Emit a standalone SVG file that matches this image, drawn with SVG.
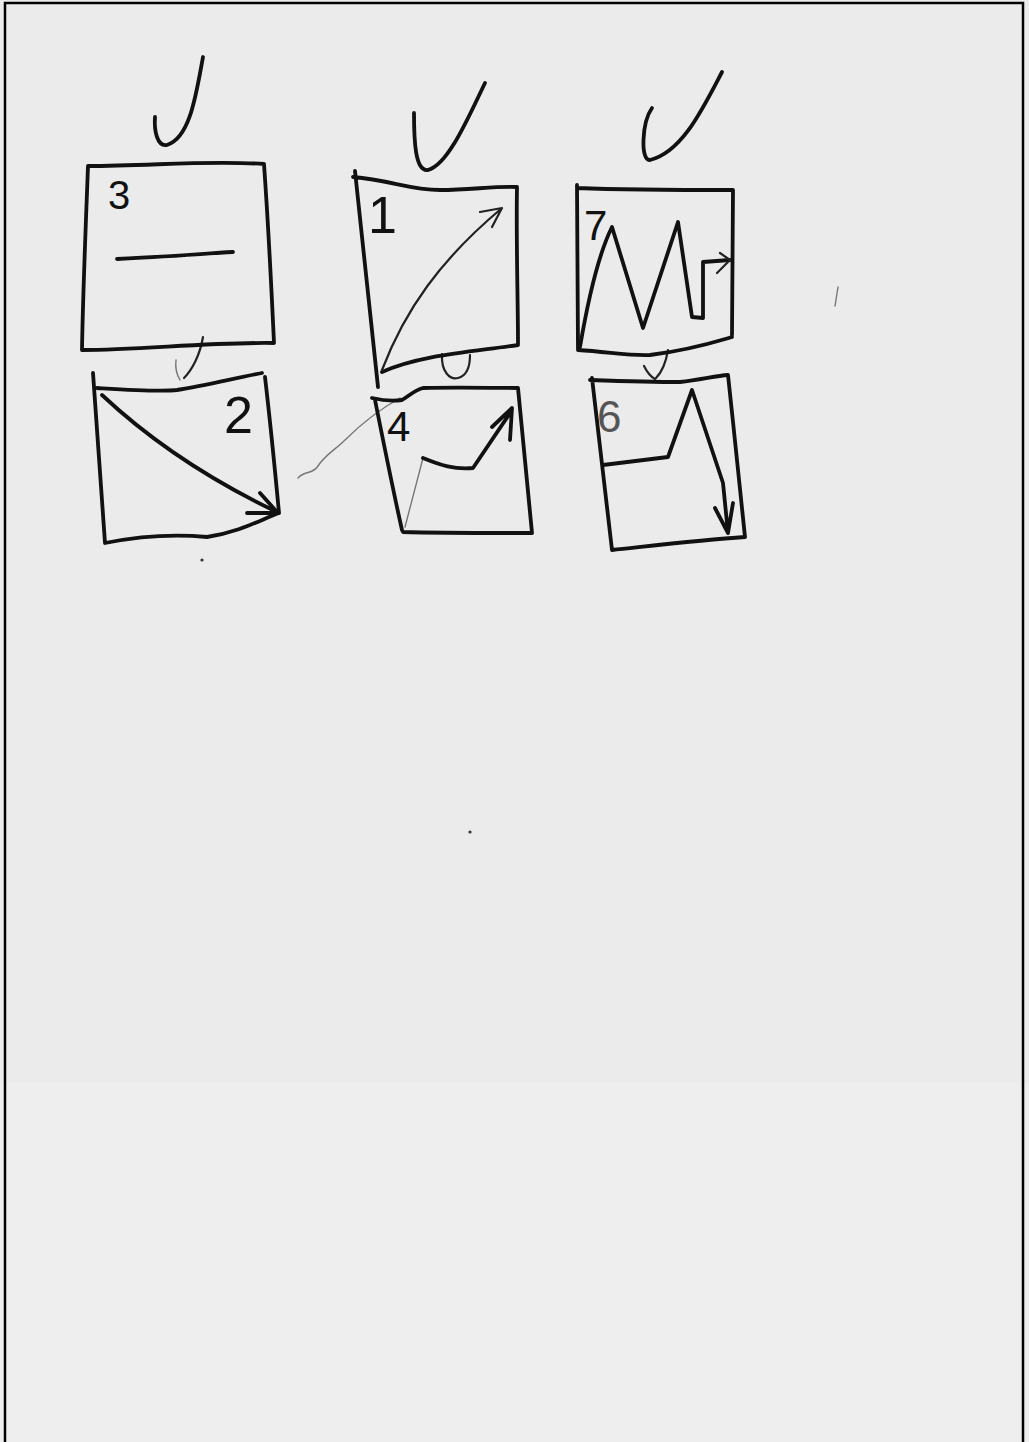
<svg xmlns="http://www.w3.org/2000/svg" width="1029" height="1442" viewBox="0 0 1029 1442">
<style>
.ink{fill:none;stroke:#111;stroke-width:3.8;stroke-linecap:round;stroke-linejoin:round}
.thin{fill:none;stroke:#222;stroke-width:2.2;stroke-linecap:round;stroke-linejoin:round}
.faint{fill:none;stroke:#777;stroke-width:1.4;stroke-linecap:round;stroke-linejoin:round}
.num{font-family:"Liberation Sans",Arial,sans-serif;fill:#111}
</style>
<rect x="0" y="0" width="1029" height="1442" fill="#ebebeb"/>
<rect x="0" y="1083" width="1029" height="359" fill="#eeeeee"/>
<path d="M5,1442 V3 H1023 V1442" fill="none" stroke="#000" stroke-width="2.5"/>

<g id="connectors">
  <path class="ink" d="M203,57 C196,95 190,138 167,145 C157,147 154,130 155,117"/>
  <path class="ink" d="M485,83 C468,118 448,165 428,170 C415,172 414,140 414,113"/>
  <path class="ink" d="M722,72 C702,110 682,152 650,160 C640,161 642,122 652,108"/>
  <path class="thin" d="M203,337 C200,355 192,370 184,378"/>
  <path class="faint" d="M176,360 C175,368 177,375 180,380"/>
  <path class="faint" d="M298,478 C305,470 312,475 318,466 C325,455 335,450 345,440 C360,425 375,412 400,398"/>
  <path class="thin" d="M442,354 C441,372 450,380 458,378 C466,376 470,368 470,355"/>
  <path class="thin" d="M668,350 C666,362 662,372 656,378 M644,366 C647,372 651,377 655,379"/>
</g>

<g id="node3">
  <path class="ink" d="M88,166 C150,166 210,160 264,164 C268,220 272,300 274,343 C210,342 140,350 82,350 C83,290 86,220 88,166"/>
  <text class="num" x="108" y="209" font-size="40">3</text>
  <path class="ink" d="M117,259 C160,257 200,254 233,252"/>
</g>

<g id="node2">
  <path class="ink" d="M93,373 L105,543 M97,388 C130,390 160,392 177,390 C205,386 235,378 262,373 M265,377 C270,420 275,470 279,513 M105,543 C140,536 175,534 207,537 C240,532 260,520 279,513"/>
  <text class="num" x="224" y="433" font-size="52">2</text>
  <path class="ink" d="M102,395 C150,440 210,480 277,512 M260,493 L277,512 M247,513 L277,513"/>
</g>

<g id="node1">
  <path class="ink" d="M355,171 L378,387 M353,177 C390,180 410,190 440,190 C470,190 495,186 517,187 C516,240 518,300 518,345 C470,352 420,355 382,372"/>
  <text class="num" x="368" y="233" font-size="52">1</text>
  <path class="thin" d="M382,370 C405,310 440,260 502,208 M480,212 L502,208 L492,227"/>
</g>

<g id="node4">
  <path class="ink" d="M372,398 C385,401 395,401 402,400 C410,395 415,390 423,388 C460,387 490,388 518,388 C523,440 528,490 532,533 C490,533 440,533 403,532 M375,400 C385,450 393,490 402,530"/>
  <text class="num" x="387" y="441" font-size="42">4</text>
  <path class="faint" d="M405,527 L423,458"/>
  <path class="ink" d="M423,458 C440,465 455,470 473,468 L510,413 M492,427 L512,408 L510,440"/>
</g>

<g id="node7">
  <path class="ink" d="M577,185 L578,350 M577,188 C630,190 690,190 733,190 L732,335 M578,350 C610,352 630,356 650,355 C690,350 715,342 732,337"/>
  <text class="num" x="584" y="240" font-size="42">7</text>
  <path class="ink" d="M580,347 C588,300 598,255 612,227 L643,328 L678,222 L692,317 L703,318 L703,262 L730,260"/>
  <path class="thin" d="M720,253 L730,260 L717,273"/>
</g>

<g id="node6">
  <path class="ink" d="M590,380 C620,381 650,382 680,382 C700,380 715,376 728,375 C734,430 740,490 745,537 C700,540 650,546 612,550 L592,378"/>
  <text class="num" x="597" y="432" font-size="44" style="fill:#555">6</text>
  <path class="ink" d="M603,465 L668,457 L692,390 L723,483 L728,533 M715,508 L728,533 L733,503"/>
</g>

<g id="marks">
  <path class="faint" d="M838,287 L835,306"/>
  <circle cx="202" cy="560" r="1.6" fill="#333"/>
  <circle cx="470" cy="832" r="1.6" fill="#333"/>
</g>
</svg>
